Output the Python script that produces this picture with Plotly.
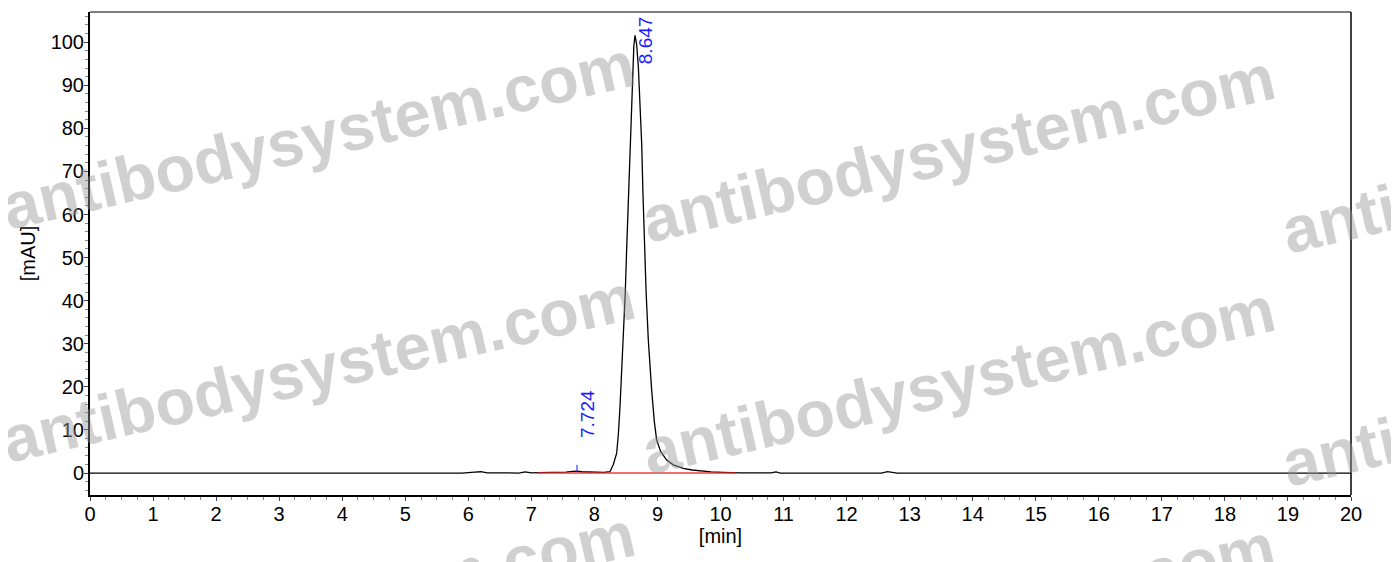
import plotly.graph_objects as go

# chromatogram trace (min, mAU)
time_min = [0.0, 5.9, 6.1, 6.2, 6.3, 6.8, 6.9, 7.0, 7.1, 7.55, 7.65, 7.72, 7.8, 8.0,
            8.15, 8.247, 8.30, 8.353, 8.38, 8.406, 8.43, 8.457, 8.49, 8.511, 8.54,
            8.565, 8.59, 8.607, 8.625, 8.644, 8.67, 8.697, 8.725, 8.75, 8.77, 8.79,
            8.82, 8.855, 8.88, 8.908, 8.95, 8.987, 9.05, 9.146, 9.25, 9.41, 9.55,
            9.675, 9.85, 10.04, 10.3, 10.8, 10.88, 10.95, 12.55, 12.65, 12.8, 20.0]
signal_mau = [0.0, 0.0, 0.2, 0.3, 0.05, 0.0, 0.25, 0.05, 0.1, 0.2, 0.4, 0.45, 0.3, 0.2,
              0.15, 0.3, 2.0, 4.6, 9.0, 15.4, 22.5, 30.9, 42.0, 51.7, 64.0,
              76.5, 88.0, 94.0, 99.0, 101.6, 99.5, 94.3, 86.0, 76.5, 65.0, 53.5,
              42.0, 30.9, 24.0, 19.3, 12.0, 7.7, 5.0, 3.0, 1.9, 1.1, 0.7,
              0.46, 0.28, 0.15, 0.05, 0.05, 0.25, 0.0, 0.0, 0.3, 0.0, 0.0]

# integration baseline
baseline_t = [7.09, 10.23]
baseline_y = [0.0, 0.0]

# peak labels
peak_rt = [7.724, 8.647]
peak_text = ["7.724", "8.647"]

x_ticks = list(range(0, 21))
y_ticks = list(range(0, 101, 10))

FONT = "Liberation Sans, Arial, sans-serif"

# page body adds ~8px around the figure
OFF = 8
W, H = 1399 - OFF, 562 - OFF
L, R, T, B = 90, 1351, 12, 495  # plot area in window pixels

fig = go.Figure()
fig.add_trace(go.Scatter(x=time_min, y=signal_mau, mode="lines",
                         line=dict(color="black", width=1.3), hoverinfo="skip"))
fig.add_trace(go.Scatter(x=baseline_t, y=baseline_y, mode="lines",
                         line=dict(color="rgba(240,40,40,0.9)", width=1.5), hoverinfo="skip"))

# peak label annotations
fig.add_annotation(x=peak_rt[1], y=100.5, text=peak_text[1],
                   textangle=-90, showarrow=False, xshift=10,
                   font=dict(family=FONT, size=19, color="#1a1aff"))
fig.add_annotation(x=peak_rt[0], y=13.7, text=peak_text[0],
                   textangle=-90, showarrow=False, xshift=10,
                   font=dict(family=FONT, size=19, color="#1a1aff"))
fig.add_shape(type="line", x0=peak_rt[0], x1=peak_rt[0], y0=0.2, y1=1.9,
              line=dict(color="#1a1aff", width=1))

# frame: gray top, black right
fig.add_shape(type="line", xref="paper", yref="paper", x0=0, x1=1, y0=1, y1=1,
              line=dict(color="#808080", width=2))
fig.add_shape(type="line", xref="paper", yref="paper", x0=1, x1=1, y0=0, y1=1,
              line=dict(color="black", width=1.5))

# watermarks (pixel centres converted to paper coords)
marks = [(318, 135), (958, 148), (1598, 160),
         (318, 368), (958, 380), (1598, 392),
         (318, 605), (958, 617)]
for px, py in marks:
    fig.add_annotation(x=(px - L) / (R - L), y=(B - py) / (B - T), xref="paper", yref="paper",
                       text="<b>antibodysystem.com</b>", textangle=-13, showarrow=False,
                       xanchor="center", yanchor="middle",
                       font=dict(family=FONT, size=65, color="rgba(150,150,150,0.45)"))

fig.update_layout(
    width=W, height=H,
    margin=dict(l=L - OFF, r=W - (R - OFF), t=T - OFF, b=H - (B - OFF)),
    plot_bgcolor="white", paper_bgcolor="white",
    showlegend=False,
    font=dict(family=FONT, size=20, color="black"),
    xaxis=dict(range=[0, 20], tickvals=x_ticks, showgrid=False, zeroline=False,
               showline=True, linecolor="black", linewidth=2,
               ticks="outside", ticklen=4, tickcolor="#444", ticklabelstandoff=-4,
               minor=dict(dtick=0.25, ticks="outside", ticklen=3, tickcolor="#888"),
               title=dict(text="[min]", standoff=2, font=dict(size=20))),
    yaxis=dict(range=[-5.1, 107], tickvals=y_ticks, showgrid=False, zeroline=False,
               showline=True, linecolor="black", linewidth=2,
               ticks="outside", ticklen=4, tickcolor="#444", ticklabelstandoff=-4,
               minor=dict(dtick=2, ticks="outside", ticklen=3, tickcolor="#888"),
               title=dict(text="[mAU]", standoff=10, font=dict(size=20))),
)

fig.write_html("out.html")
